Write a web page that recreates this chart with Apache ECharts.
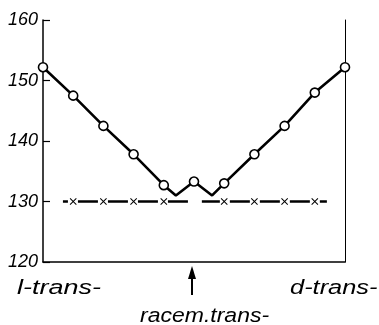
<!DOCTYPE html>
<html><head><meta charset="utf-8">
<style>html,body{margin:0;padding:0;background:#fff}#c{width:379px;height:325px}</style>
<script src="https://cdn.jsdelivr.net/npm/echarts@6/dist/echarts.min.js"></script>
</head><body><div id="c"></div>
<script>
// Main curve
const mainX = [0, 1, 2, 3, 4, 4.4, 5, 5.6, 6, 7, 8, 9, 10];
const mainY = [152.2, 147.5, 142.5, 137.8, 132.7, 131, 133.3, 131, 133, 137.8, 142.5, 148, 152.2];
const mainMarked = [1, 1, 1, 1, 1, 0, 1, 0, 1, 1, 1, 1, 1];
// Dashed line with crosses at 130
const dashLeftX = [0.66, 1, 2, 3, 4, 4.8];
const dashRightX = [5.26, 6, 7, 8, 9, 9.4];
const dashLeftMarked = [0, 1, 1, 1, 1, 0];
const dashRightMarked = [0, 1, 1, 1, 1, 0];
const dashY = 130;
// Axis labels
const yTicks = [120, 130, 140, 150, 160];
const xLabels = ['l-trans-', 'racem.trans-', 'd-trans-'];

const crossPath = 'path://M1,0 L5,4 L9,0 L10,1 L6,5 L10,9 L9,10 L5,6 L1,10 L0,9 L4,5 L0,1 Z';

function build(xs, ys, marks, sym) {
  return xs.map((x, i) => ({
    value: [x, Array.isArray(ys) ? ys[i] : ys],
    symbol: marks[i] ? sym : 'none'
  }));
}

const chart = echarts.init(document.getElementById('c'));
const labelFont = 'Liberation Sans';
chart.setOption({
  animation: false,
  backgroundColor: '#fff',
  grid: { left: 43, right: 34, top: 20, bottom: 63 },
  xAxis: {
    type: 'value', min: 0, max: 10,
    axisLine: { show: true, onZero: false, lineStyle: { color: '#000', width: 1.5 } },
    axisTick: { show: false }, axisLabel: { show: false }, splitLine: { show: false }
  },
  yAxis: [{
    type: 'value', min: yTicks[0], max: yTicks[yTicks.length - 1], interval: 10,
    axisLine: { show: true, lineStyle: { color: '#000', width: 1.5 } },
    axisTick: { show: true, inside: true, length: 7, lineStyle: { color: '#000', width: 1.2 } },
    axisLabel: { color: '#000', fontFamily: labelFont, fontStyle: 'italic', fontSize: 18, margin: 5 },
    splitLine: { show: false }
  }, {
    type: 'value', min: yTicks[0], max: yTicks[yTicks.length - 1], position: 'right',
    axisLine: { show: true, lineStyle: { color: '#000', width: 1 } },
    axisTick: { show: false }, axisLabel: { show: false }, splitLine: { show: false }
  }],
  series: [{
    type: 'line',
    data: build(mainX, mainY, mainMarked, 'circle'),
    symbolSize: 9,
    lineStyle: { color: '#000', width: 2.6 },
    itemStyle: { color: '#fff', borderColor: '#000', borderWidth: 1.6 },
    z: 3
  }, {
    type: 'line',
    data: build(dashLeftX, dashY, dashLeftMarked, crossPath),
    symbolSize: 7,
    lineStyle: { color: '#000', width: 2.4, type: [20, 10], dashOffset: 15 },
    itemStyle: { color: '#000' }
  }, {
    type: 'line',
    data: build(dashRightX, dashY, dashRightMarked, crossPath),
    symbolSize: 7,
    lineStyle: { color: '#000', width: 2.4, type: [20, 10], dashOffset: 2 },
    itemStyle: { color: '#000' }
  }],
  graphic: [
    { type: 'text', x: 17, y: 288, scaleX: 1.35, style: { text: xLabels[0], font: 'italic 20px ' + labelFont, fill: '#000', verticalAlign: 'middle' } },
    { type: 'text', x: 140, y: 316, scaleX: 1.15, style: { text: xLabels[1], font: 'italic 20px ' + labelFont, fill: '#000', verticalAlign: 'middle' } },
    { type: 'text', x: 290, y: 288, scaleX: 1.27, style: { text: xLabels[2], font: 'italic 20px ' + labelFont, fill: '#000', verticalAlign: 'middle' } },
    { type: 'line', shape: { x1: 192, y1: 276, x2: 192, y2: 295 }, style: { stroke: '#000', lineWidth: 2 } },
    { type: 'polygon', shape: { points: [[192, 266], [188, 279], [196, 279]] }, style: { fill: '#000' } }
  ]
});
</script></body></html>
